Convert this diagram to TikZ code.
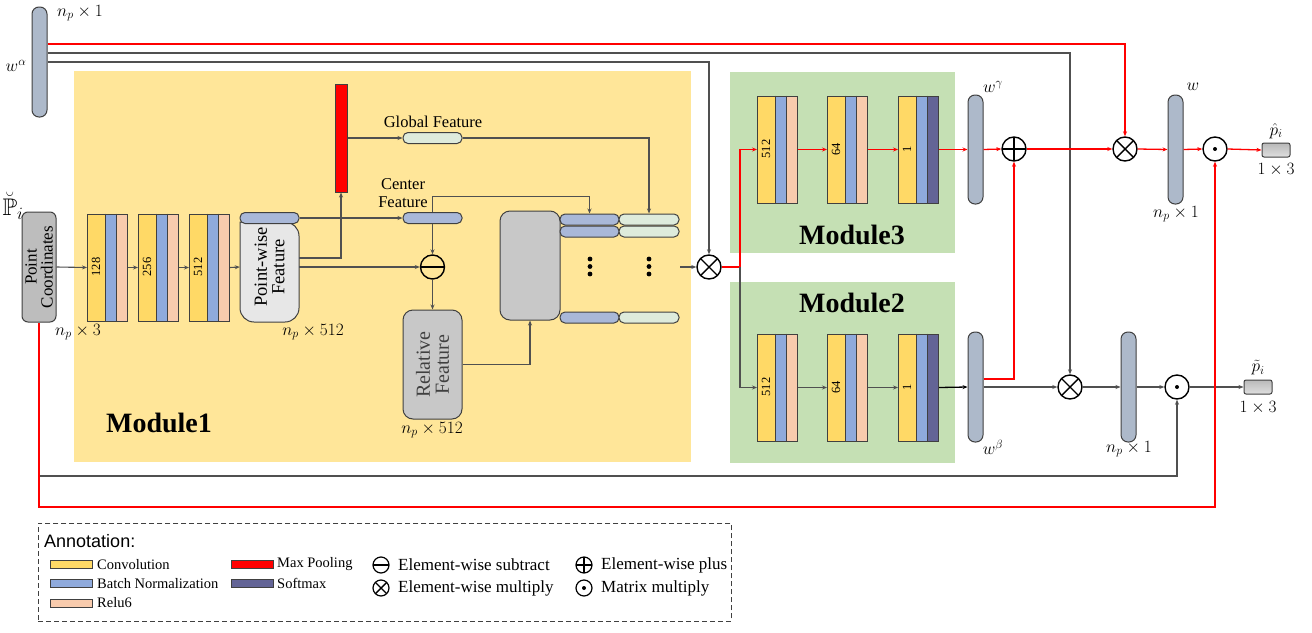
\documentclass[tikz,border=0pt]{standalone}
\usepackage{amsmath,amssymb}
\usepackage{fontspec}
\setmainfont{Liberation Serif}
\newfontfamily\lsans{Liberation Sans}
\usetikzlibrary{arrows.meta,calc}
\definecolor{ybg}{HTML}{FFE699}
\definecolor{gbg}{HTML}{C5E0B4}
\definecolor{cY}{HTML}{FFD966}
\definecolor{cB}{HTML}{8FAADC}
\definecolor{cR}{HTML}{F8CBAD}
\definecolor{cS}{HTML}{636496}
\definecolor{barc}{HTML}{ADB9CA}
\definecolor{bd}{HTML}{404040}
\definecolor{lc}{HTML}{505050}
\definecolor{rc}{HTML}{FF0000}
\definecolor{pwf}{HTML}{E7E7E7}
\definecolor{gboxc}{HTML}{C8C8C8}
\definecolor{pcc}{HTML}{BDBDBD}
\definecolor{gpc}{HTML}{DEEBDC}
\definecolor{bpc}{HTML}{A9B8D8}
\newcommand\fs[1]{\fontsize{#1}{#1}\selectfont}
\tikzset{
  ln/.style={draw=lc, line width=1.1pt, -{Stealth[length=5pt,width=4pt]}},
  rl/.style={draw=rc, line width=1.3pt, -{Stealth[length=5pt,width=4pt]}},
  bar/.style={rectangle, draw=bd, fill=barc, line width=1pt, rounded corners=7pt, minimum width=15, minimum height=110, inner sep=0},
  blk/.style={rectangle, draw=bd, line width=1pt, minimum width=40, minimum height=107, inner sep=0},
  numtxt/.style={font=\fs{12.5}, inner sep=0},
  pill/.style={rectangle, draw=bd, line width=1pt, rounded corners=5pt, minimum width=59, minimum height=11, inner sep=0},
  op/.style={circle, draw=black, line width=1.4pt, minimum size=24, inner sep=0},
  opx/.style={op, path picture={\draw[line width=1.4pt] (path picture bounding box.north west) -- (path picture bounding box.south east) (path picture bounding box.north east) -- (path picture bounding box.south west);}},
  opp/.style={op, path picture={\draw[line width=1.4pt] (path picture bounding box.north) -- (path picture bounding box.south) (path picture bounding box.west) -- (path picture bounding box.east);}},
  opm/.style={op, path picture={\draw[line width=1.4pt] (path picture bounding box.west) -- (path picture bounding box.east);}},
  opd/.style={op, path picture={\fill (path picture bounding box.center) circle[radius=2pt];}},
  mlbl/.style={font=\fs{17}, inner sep=0},
  tlbl/.style={font=\fs{16.5}, inner sep=0},
  modlbl/.style={font=\fs{28}\bfseries, inner sep=0},
  sw/.style={rectangle, draw=bd, line width=1pt, minimum width=42, minimum height=8, inner sep=0},
  swt/.style={font=\fs{14.5}, anchor=west, inner sep=0},
  opt/.style={font=\fs{17}, anchor=west, inner sep=0},
  lop/.style={minimum size=16, line width=1.2pt},
  rtxt/.style={rotate=90, align=center, inner sep=0},
  pbox/.style={rectangle, draw=bd, line width=1pt, rounded corners=2pt, top color=gray!55, bottom color=gray!25, minimum width=28, minimum height=14, inner sep=0},
}
\newcommand\cblk[5]{%
  \fill[cY] (#2,#3) rectangle ++(18,107);
  \fill[cB] (#2+18,#3) rectangle ++(11,107);
  \fill[#4] (#2+29,#3) rectangle ++(11,107);
  \draw[bd, line width=1pt] (#2+18,#3) -- ++(0,107) (#2+29,#3) -- ++(0,107);
  \node[blk, anchor=north west] (#1) at (#2,#3) {};
  \node[numtxt, rotate=90] at (#2+9,#3+53.5) {#5};
}
\begin{document}
\begin{tikzpicture}[x=1pt,y=-1pt]
\useasboundingbox (0,0) rectangle (1312,632);
% backgrounds
\fill[ybg] (74,71) rectangle (691,462);
\fill[gbg] (730,72) rectangle (955,253);
\fill[gbg] (730,282) rectangle (955,463);
\node[modlbl] (mod1) at (159,423) {Module1};
\node[modlbl] (mod3) at (852,235) {Module3};
\node[modlbl] (mod2) at (852,303) {Module2};

% w alpha
\node[bar] (wa) at (39.5,62) {};
\node[mlbl] (wal) at (16,66) {$w^{\alpha}$};
\node[mlbl] (wan) at (80,13) {$n_p\times 1$};

% point coordinates
\node[font=\fs{24}, inner sep=0] (pin) at (13,206) {$\breve{\mathbb{P}}_i$};
\node[rectangle, draw=bd, fill=pcc, line width=1pt, rounded corners=6pt, minimum width=34, minimum height=110, inner sep=0] (pc) at (39,267) {};
\node[rtxt, font=\fs{17}] (pct) at (pc.center) {Point\\[-1pt]Coordinates};
\node[mlbl] (pcn) at (78,332) {$n_p\times 3$};

% conv blocks module1
\cblk{b1}{87}{213.5}{cR}{128}
\cblk{b2}{138}{213.5}{cR}{256}
\cblk{b3}{189}{213.5}{cR}{512}

% point-wise feature
\draw[draw=bd, fill=pwf, line width=1pt] (240,222) [rounded corners=14pt] -- (240,322) -- (299,322) -- (299,222) [sharp corners] -- cycle;
\node[pill, fill=bpc] (pwcap) at (269.5,218) {};
\node[rectangle, minimum width=59, minimum height=110, inner sep=0] (pw) at (269.5,267) {};
\node[rtxt, font=\fs{18.5}] (pwt) at (269.5,267) {Point-wise\\[-1pt]Feature};
\node[mlbl] (pwn) at (313,332) {$n_p\times 512$};

% max pool
\node[rectangle, draw=bd, fill=rc, line width=1pt, minimum width=12, minimum height=108, inner sep=0] (mp) at (341,138) {};

% global / center features
\node[pill, fill=gpc] (gp) at (432.5,138) {};
\node[tlbl] (gpl) at (433,122) {Global Feature};
\node[pill, fill=bpc] (cp) at (432.5,218) {};
\node[tlbl, align=center] (cpl) at (403,193) {Center\\[2pt]Feature};
\node[opm] (sub) at (432.5,267) {};
\node[rectangle, draw=bd, fill=gboxc, line width=1pt, rounded corners=10pt, minimum width=59, minimum height=109, inner sep=0] (rel) at (432.5,364.5) {};
\node[rtxt, font=\fs{20}, text=bd] (relt) at (rel.center) {Relative\\[-1pt]Feature};
\node[mlbl] (reln) at (432,430) {$n_p\times 512$};

% aggregation box and pills
\node[rectangle, draw=bd, fill=gboxc, line width=1pt, rounded corners=10pt, minimum width=60, minimum height=109, inner sep=0] (agg) at (530,265.5) {};
\node[pill, fill=bpc] (bp1) at (589.5,219.5) {};
\node[pill, fill=gpc, minimum width=60] (gp1) at (649,219.5) {};
\node[pill, fill=bpc] (bp2) at (589.5,231.5) {};
\node[pill, fill=gpc, minimum width=60] (gp2) at (649,231.5) {};
\node[pill, fill=bpc] (bp3) at (589.5,317.5) {};
\node[pill, fill=gpc, minimum width=60] (gp3) at (649,317.5) {};
\foreach \xx in {590,649} {\foreach \yy in {259,266.5,274} {\fill (\xx,\yy) circle[radius=2.4pt];}}
\coordinate (aggout) at (680,267);

% multiply 1
\node[opx] (m1) at (709,267) {};

% module3 blocks
\cblk{t1}{757}{95.5}{cR}{512}
\cblk{t2}{827}{95.5}{cR}{64}
\cblk{t3}{898}{95.5}{cS}{1}
% module2 blocks
\cblk{u1}{757}{333.5}{cR}{512}
\cblk{u2}{827}{333.5}{cR}{64}
\cblk{u3}{898}{333.5}{cS}{1}

% bars right
\node[bar, minimum height=109] (wg) at (975.5,149.5) {};
\node[mlbl] (wgl) at (993,87) {$w^{\gamma}$};
\node[bar, minimum height=110] (wb) at (975.5,387) {};
\node[mlbl] (wbl) at (993,447) {$w^{\beta}$};
\node[opp] (plus) at (1014,149) {};
\node[opx] (mt) at (1125,149) {};
\node[bar, minimum height=109] (w) at (1175.5,149.5) {};
\node[mlbl] (wl) at (1193,87) {$w$};
\node[mlbl] (wn) at (1176,214) {$n_p\times 1$};
\node[opd] (dt) at (1215,149) {};
\node[pbox] (ph) at (1276,150) {};
\node[mlbl] (phl) at (1276,131) {$\hat{p}_i$};
\node[mlbl] (phn) at (1276,170) {$1\times 3$};

\node[opx] (ml) at (1070,387) {};
\node[bar, minimum height=110] (w2) at (1128.5,387) {};
\node[mlbl] (w2n) at (1129,449) {$n_p\times 1$};
\node[opd] (dl) at (1177,387) {};
\node[pbox] (pt) at (1258,387) {};
\node[mlbl] (ptl) at (1258,368) {$\tilde{p}_i$};
\node[mlbl] (ptn) at (1258,408) {$1\times 3$};

% ---------- connectors ----------
\draw[ln] (pc.east) -- (b1.west);
\draw[ln] (b1.east) -- (b2.west);
\draw[ln] (b2.east) -- (b3.west);
\draw[ln] (b3.east) -- (pw.west);
\draw[ln] (pwcap.east) -- (cp.west);
\draw[ln] ($(pw.east)+(0,-9)$) -| (mp.south);
\draw[ln] (pw.east) -- (sub.west);
\draw[ln] (mp.east |- gp.west) -- (gp.west);
\draw[ln] (gp.east) -| (gp1.north);
\draw[ln] (cp.north) -- ++(0,-15.5) -| (bp1.north);
\draw[ln] (cp.south) -- (sub.north);
\draw[ln] (sub.south) -- (rel.north);
\draw[ln] (rel.east) -| (agg.south);
\draw[ln] (aggout) -- (m1.west);

% lines from w alpha
\draw[rl] ($(wa.east)+(0,-18)$) -| (mt.north);
\draw[ln] ($(wa.east)+(0,-9)$) -| (ml.north);
\draw[ln] (wa.east) -| (m1.north);

% split after m1
\coordinate (sp) at (740,267);
\draw[rl, -] (m1.east) -- (sp);
\draw[rl] (sp) |- (t1.west);
\draw[ln] (sp) |- (u1.west);

% module3 chain
\draw[rl] (t1.east) -- (t2.west);
\draw[rl] (t2.east) -- (t3.west);
\draw[rl] (t3.east) -- (wg.west);
\draw[rl] (wg.east) -- (plus.west);
\draw[rl] (plus.east) -- (mt.west);
\draw[rl] (mt.east) -- (w.west);
\draw[rl] (w.east) -- (dt.west);
\draw[rl] (dt.east) -- (ph.west);

% module2 chain
\draw[ln] (u1.east) -- (u2.west);
\draw[ln] (u2.east) -- (u3.west);
\draw[ln, draw=black, line width=1.3pt] (u3.east) -- (wb.west);
\draw[rl] ($(wb.east)+(0,-8)$) -| (plus.south);
\draw[ln] (wb.east) -- (ml.west);
\draw[ln] (ml.east) -- (w2.west);
\draw[ln] (w2.east) -- (dl.west);
\draw[ln] (dl.east) -- (pt.west);

% bottom lines
\coordinate (gb) at (39,476);
\coordinate (rb) at (39,507);
\draw[ln] (gb) -| (dl.south);
\draw[rl] (pc.south) -- (rb) -| (dt.south);

% ---------- legend ----------
\node[rectangle, draw=bd, line width=0.9pt, dash pattern=on 5pt off 3pt, minimum width=693, minimum height=98, inner sep=0, anchor=north west] (leg) at (38,523) {};
\node[font=\lsans\fs{18}, anchor=west, inner sep=0] (annot) at (44,541) {Annotation:};
\node[sw, fill=cY] (s1) at (71,564.5) {};
\node[swt] (s1t) at (97,564.5) {Convolution};
\node[sw, fill=cB] (s2) at (71,583.5) {};
\node[swt] (s2t) at (97,583.5) {Batch Normalization};
\node[sw, fill=cR] (s3) at (71,603) {};
\node[swt] (s3t) at (97,603) {Relu6};
\node[sw, fill=rc] (s4) at (252,564.5) {};
\node[swt] (s4t) at (277,564.5) {Max Pooling};
\node[sw, fill=cS] (s5) at (252,583.5) {};
\node[swt] (s5t) at (277,583.5) {Softmax};
\node[opm, lop] (l1) at (381,565) {};
\node[opt] (l1t) at (398,565) {Element-wise subtract};
\node[opx, lop] (l2) at (381,588) {};
\node[opt] (l2t) at (398,588) {Element-wise multiply};
\node[opp, lop] (l3) at (584,565) {};
\node[opt] (l3t) at (601,565) {Element-wise plus};
\node[opd, lop] (l4) at (584,588) {};
\node[opt] (l4t) at (601,588) {Matrix multiply};
\end{tikzpicture}
\end{document}
